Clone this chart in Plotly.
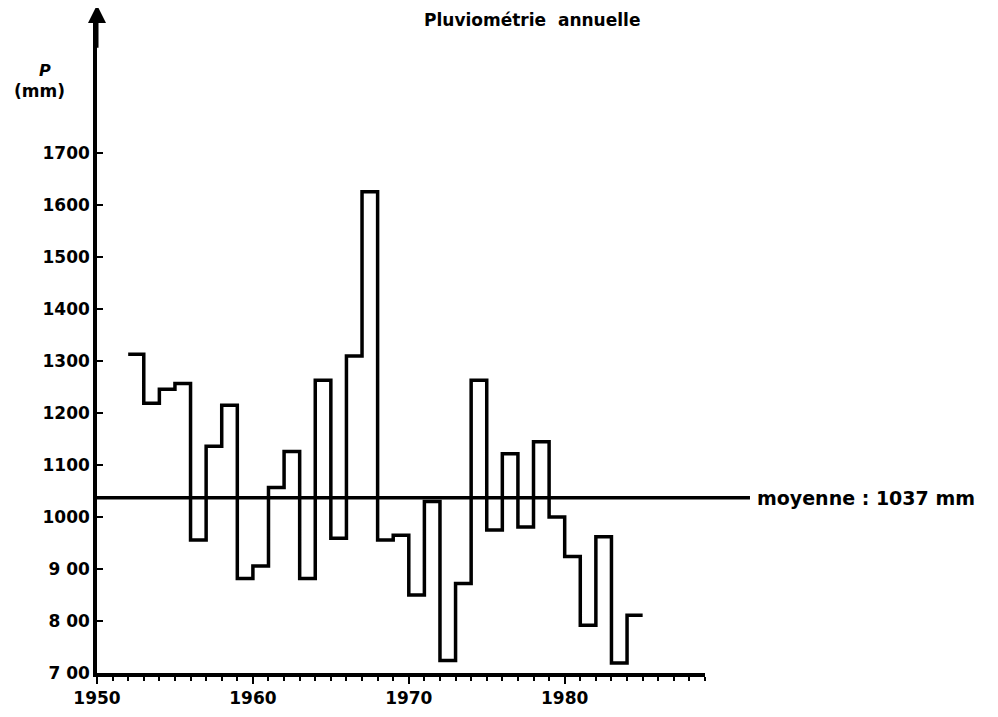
import plotly.graph_objects as go

years = list(range(1952, 1985))
rainfall_mm = [1313, 1219, 1246, 1257, 956, 1136, 1215, 882, 906, 1057,
               1126, 882, 1263, 959, 1310, 1626, 956, 965, 850, 1030,
               724, 872, 1263, 975, 1122, 981, 1145, 1000, 924, 792,
               962, 719, 811]
mean_mm = 1037
x_ticks = [1950, 1960, 1970, 1980]
y_ticks = [700, 800, 900, 1000, 1100, 1200, 1300, 1400, 1500, 1600, 1700]
y_tick_labels = ["7 00", "8 00", "9 00", "1000", "1100", "1200", "1300", "1400", "1500", "1600", "1700"]

FONT = "DejaVu Sans"

x_edges = years + [years[-1] + 1]
y_steps = rainfall_mm + [rainfall_mm[-1]]

fig = go.Figure()
fig.add_trace(go.Scatter(
    x=x_edges, y=y_steps, mode="lines", line_shape="hv",
    line=dict(color="black", width=3.5), showlegend=False, hoverinfo="skip",
    cliponaxis=False,
))

fig.update_layout(
    width=990, height=709,
    margin=dict(l=89, r=293, t=10, b=44, autoexpand=False),
    paper_bgcolor="white", plot_bgcolor="white",
    font=dict(family=FONT, color="black"),
    xaxis=dict(
        range=[1950, 1989], showgrid=False, zeroline=False, automargin=False,
        showline=True, linecolor="black", linewidth=3.5,
        tickmode="array", tickvals=x_ticks, ticktext=[str(v) for v in x_ticks],
        ticks="outside", ticklen=7, tickwidth=2, tickcolor="black",
        minor=dict(dtick=1, tick0=1950, ticks="outside", ticklen=4, tickwidth=2, tickcolor="black"),
        tickfont=dict(family=FONT, size=17, weight="bold", color="black"),
    ),
    yaxis=dict(
        range=[700, 1960], showgrid=False, zeroline=False, automargin=False,
        showline=True, linecolor="black", linewidth=3.5,
        tickmode="array", tickvals=y_ticks, ticktext=y_tick_labels,
        ticks="inside", ticklen=6, tickwidth=2, tickcolor="black",
        tickfont=dict(family=FONT, size=17, weight="bold", color="black"),
        ticklabelstandoff=0,
    ),
    shapes=[
        dict(type="line", xref="paper", yref="y", x0=0, x1=1.074,
             y0=mean_mm, y1=mean_mm, line=dict(color="black", width=3.5)),
    ],
    annotations=[
        dict(text="Pluviométrie  annuelle", xref="paper", yref="paper",
             x=0.715, y=1.0, xanchor="center", yanchor="top", yshift=10,
             showarrow=False, font=dict(family=FONT, size=17, weight="bold")),
        dict(text=f"moyenne : {mean_mm} mm", xref="paper", yref="y",
             x=1.083, y=mean_mm, xanchor="left", yanchor="middle",
             showarrow=False, font=dict(family=FONT, size=19, weight="bold")),
        dict(text="P", xref="paper", yref="paper", x=-0.085, y=0.92,
             xanchor="center", yanchor="middle", showarrow=False,
             font=dict(family=FONT, size=16, weight="bold", style="italic")),
        dict(text="(mm)", xref="paper", yref="paper", x=-0.095, y=0.888,
             xanchor="center", yanchor="middle", showarrow=False,
             font=dict(family=FONT, size=17, weight="bold")),
        dict(x=1950, y=1985, xref="x", yref="y", ax=1950, ay=1900,
             axref="x", ayref="y", showarrow=True, arrowhead=2,
             arrowsize=1.2, arrowwidth=3, arrowcolor="black", text=""),
    ],
)

fig.write_html("out.html")
